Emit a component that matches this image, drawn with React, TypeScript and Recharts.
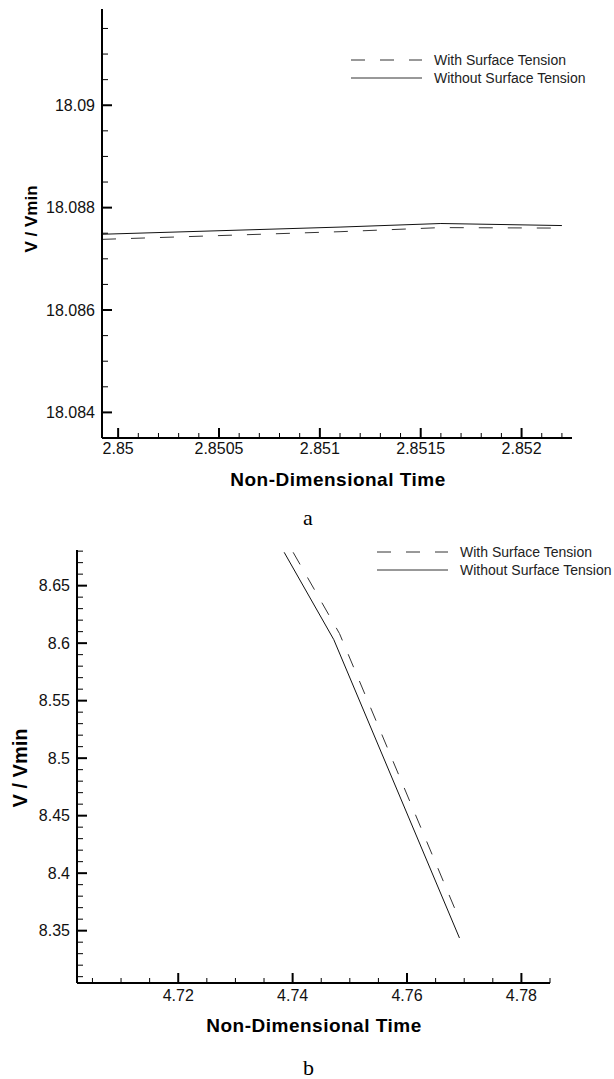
import { LineChart, Line, XAxis, YAxis, Legend } from "recharts";

// ---- panel a ----
const aWithTime = [2.84992, 2.8511, 2.8516, 2.8522];
const aWithValue = [18.08738, 18.08753, 18.08761, 18.0876];
const aWithoutTime = [2.84992, 2.8511, 2.8516, 2.8522];
const aWithoutValue = [18.08748, 18.08762, 18.08769, 18.08765];
const aXMajor = [2.85, 2.8505, 2.851, 2.8515, 2.852];
const aXMinor = [
  2.8501, 2.8502, 2.8503, 2.8504, 2.8506, 2.8507, 2.8508, 2.8509, 2.8511,
  2.8512, 2.8513, 2.8514, 2.8516, 2.8517, 2.8518, 2.8519, 2.8521, 2.8522,
];
const aYMajor = [18.084, 18.086, 18.088, 18.09];
const aYMinor = [
  18.0845, 18.085, 18.0855, 18.0865, 18.087, 18.0875, 18.0885, 18.089,
  18.0895, 18.0905, 18.091, 18.0915,
];

// ---- panel b ----
const bWithTime = [4.74009, 4.7482, 4.76856];
const bWithValue = [8.679, 8.6083, 8.36678];
const bWithoutTime = [4.73852, 4.7472, 4.76917];
const bWithoutValue = [8.679, 8.60304, 8.34365];
const bXMajor = [4.72, 4.74, 4.76, 4.78];
const bXMinor = [
  4.705, 4.71, 4.715, 4.725, 4.73, 4.735, 4.745, 4.75, 4.755, 4.765, 4.77,
  4.775, 4.785,
];
const bYMajor = [8.35, 8.4, 8.45, 8.5, 8.55, 8.6, 8.65];
const bYMinor = [
  8.31, 8.32, 8.33, 8.34, 8.36, 8.37, 8.38, 8.39, 8.41, 8.42, 8.43, 8.44,
  8.46, 8.47, 8.48, 8.49, 8.51, 8.52, 8.53, 8.54, 8.56, 8.57, 8.58, 8.59,
  8.61, 8.62, 8.63, 8.64, 8.66, 8.67, 8.68,
];

const WITH = "With Surface Tension";
const WITHOUT = "Without Surface Tension";
const DASH = "14 15";
const SANS = "'Liberation Sans', Arial, Helvetica, sans-serif";

const toPoints = (t: number[], v: number[]) => t.map((x, i) => ({ t: x, v: v[i] }));
const isMajor = (v: number, majors: number[]) => majors.some((m) => Math.abs(m - v) < 1e-9);

const YTick = (props: any) => {
  const { x, y, payload, majors } = props;
  const major = isMajor(payload.value, majors);
  return (
    <g>
      <line x1={x} x2={x + (major ? 10 : 6)} y1={y} y2={y} stroke="#000" strokeWidth={major ? 2 : 1} />
      {major && (
        <text x={x - 7} y={y} dy="0.36em" textAnchor="end" fontSize={16} fontFamily={SANS} fill="#111">
          {String(payload.value)}
        </text>
      )}
    </g>
  );
};

const XTick = (props: any) => {
  const { x, y, payload, majors, labelDy } = props;
  const major = isMajor(payload.value, majors);
  return (
    <g>
      <line x1={x} x2={x} y1={y} y2={y - (major ? 10 : 5)} stroke="#000" strokeWidth={major ? 2 : 1} />
      {major && (
        <text x={x} y={y + labelDy} textAnchor="middle" fontSize={16} fontFamily={SANS} fill="#111">
          {String(payload.value)}
        </text>
      )}
    </g>
  );
};

const LegendBox = ({ payload }: any) => (
  <svg width={262} height={40} style={{ display: "block" }}>
    {(payload || []).map((e: any, i: number) => {
      const y = 8 + i * 18;
      const dash = e.value === WITH ? DASH : undefined;
      return (
        <g key={i}>
          <line x1={0} x2={71} y1={y} y2={y} stroke="#333" strokeWidth={1} strokeDasharray={dash} />
          <text x={83} y={y + 5} fontSize={14} fontFamily={SANS} fill="#222">
            {e.value}
          </text>
        </g>
      );
    })}
  </svg>
);

const axisLine = { stroke: "#000", strokeWidth: 2 };

export default function App() {
  const aWith = toPoints(aWithTime, aWithValue);
  const aWithout = toPoints(aWithoutTime, aWithoutValue);
  const bWith = toPoints(bWithTime, bWithValue);
  const bWithout = toPoints(bWithoutTime, bWithoutValue);

  return (
    <div style={{ position: "absolute", left: 0, top: 0, width: 614, height: 1079, background: "#fff" }}>
      <div style={{ position: "absolute", left: 0, top: 0 }}>
        <LineChart width={614} height={530} margin={{ top: 9, right: 42, left: 42, bottom: 62 }}>
          <XAxis
            type="number"
            dataKey="t"
            domain={[2.84992, 2.85225]}
            allowDataOverflow
            ticks={[...aXMajor, ...aXMinor].sort((p, q) => p - q)}
            interval={0}
            height={30}
            tickSize={0}
            tickMargin={0}
            tickLine={false}
            axisLine={axisLine}
            tick={<XTick majors={aXMajor} labelDy={16} />}
          />
          <YAxis
            type="number"
            dataKey="v"
            domain={[18.0835, 18.09188]}
            allowDataOverflow
            ticks={[...aYMajor, ...aYMinor].sort((p, q) => p - q)}
            interval={0}
            width={60}
            tickSize={0}
            tickMargin={0}
            tickLine={false}
            axisLine={axisLine}
            tick={<YTick majors={aYMajor} />}
          />
          <Legend
            layout="vertical"
            align="center"
            verticalAlign="middle"
            content={<LegendBox />}
            wrapperStyle={{ left: 351, top: 52, width: 262 }}
          />
          <Line
            data={aWith}
            dataKey="v"
            name={WITH}
            type="linear"
            stroke="#333"
            strokeWidth={1}
            strokeDasharray={DASH}
            dot={false}
            isAnimationActive={false}
          />
          <Line
            data={aWithout}
            dataKey="v"
            name={WITHOUT}
            type="linear"
            stroke="#111"
            strokeWidth={1}
            dot={false}
            isAnimationActive={false}
          />
        </LineChart>
      </div>

      <div style={{ position: "absolute", left: 0, top: 530 }}>
        <LineChart width={614} height={549} margin={{ top: 20, right: 64, left: 17, bottom: 66 }}>
          <XAxis
            type="number"
            dataKey="t"
            domain={[4.7023, 4.785]}
            allowDataOverflow
            ticks={[...bXMajor, ...bXMinor].sort((p, q) => p - q)}
            interval={0}
            height={30}
            tickSize={0}
            tickMargin={0}
            tickLine={false}
            axisLine={axisLine}
            tick={<XTick majors={bXMajor} labelDy={18} />}
          />
          <YAxis
            type="number"
            dataKey="v"
            domain={[8.3045, 8.681]}
            allowDataOverflow
            ticks={[...bYMajor, ...bYMinor].sort((p, q) => p - q)}
            interval={0}
            width={60}
            tickSize={0}
            tickMargin={0}
            tickLine={false}
            axisLine={axisLine}
            tick={<YTick majors={bYMajor} />}
          />
          <Legend
            layout="vertical"
            align="center"
            verticalAlign="middle"
            content={<LegendBox />}
            wrapperStyle={{ left: 377, top: 14, width: 262 }}
          />
          <Line
            data={bWith}
            dataKey="v"
            name={WITH}
            type="linear"
            stroke="#333"
            strokeWidth={1}
            strokeDasharray={DASH}
            dot={false}
            isAnimationActive={false}
          />
          <Line
            data={bWithout}
            dataKey="v"
            name={WITHOUT}
            type="linear"
            stroke="#111"
            strokeWidth={1}
            dot={false}
            isAnimationActive={false}
          />
        </LineChart>
      </div>

      {/* axis titles and panel captions */}
      <svg
        width={614}
        height={1079}
        style={{ position: "absolute", left: 0, top: 0, pointerEvents: "none" }}
      >
        <text x={338} y={486} textAnchor="middle" fontSize={19} fontWeight="bold" letterSpacing={0.5} fontFamily={SANS} fill="#000">
          Non-Dimensional Time
        </text>
        <text transform="translate(36.5,219) rotate(-90)" textAnchor="middle" fontSize={17} fontWeight="bold" fontFamily={SANS} fill="#000">
          V / Vmin
        </text>
        <text x={308} y={525} textAnchor="middle" fontSize={22} fontFamily="'Liberation Serif', 'Times New Roman', serif" fill="#000">
          a
        </text>

        <text x={314} y={1031.5} textAnchor="middle" fontSize={19} fontWeight="bold" letterSpacing={0.5} fontFamily={SANS} fill="#000">
          Non-Dimensional Time
        </text>
        <text transform="translate(26.7,768) rotate(-90)" textAnchor="middle" fontSize={20} fontWeight="bold" fontFamily={SANS} fill="#000">
          V / Vmin
        </text>
        <text x={308.6} y={1075} textAnchor="middle" fontSize={22} fontFamily="'Liberation Serif', 'Times New Roman', serif" fill="#000">
          b
        </text>
      </svg>
    </div>
  );
}
